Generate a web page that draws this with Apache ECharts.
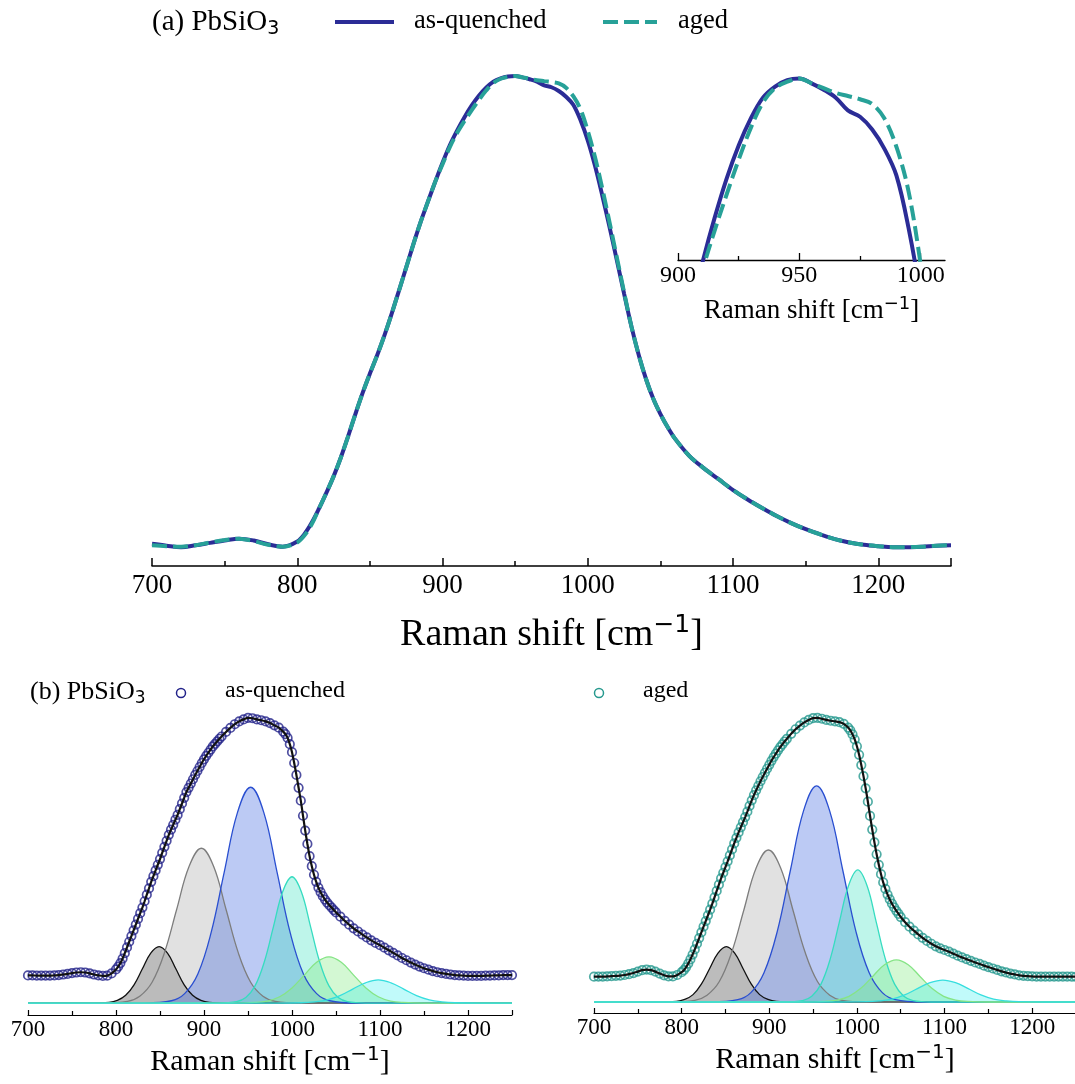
<!DOCTYPE html>
<html>
<head>
<meta charset="utf-8">
<script src="https://cdn.jsdelivr.net/npm/echarts@6/dist/echarts.min.js"></script>
<style>
  html, body { margin: 0; padding: 0; background: #ffffff; }
  #chart { width: 1075px; height: 1084px; }
</style>
</head>
<body>
<div id="chart"></div>
<script>
// ---------- (a) normalised Raman spectra ----------
const shiftA = [700,710,720,730,740,750,760,770,780,790,
  800,805,810,815,820,825,830,835,840,845,850,855,860,865,870,875,880,885,890,895,
  900,905,910,915,920,925,930,935,940,945,950,955,960,965,970,975,980,985,990,995,
  1000,1005,1010,1015,1020,1025,1030,1035,1040,1045,1050,1055,1060,
  1070,1080,1090,1100,1110,1120,1130,1140,1150,1160,1170,1180,1190,1200,1210,1220,1230,1240,1250];
const quenchedA = [0.007,0.003,0.000,0.004,0.009,0.014,0.018,0.014,0.006,0.001,
  0.012,0.028,0.052,0.082,0.115,0.150,0.190,0.235,0.282,0.327,0.368,0.407,0.449,0.495,0.544,0.593,0.643,0.690,0.733,0.775,
  0.815,0.852,0.883,0.911,0.936,0.957,0.974,0.987,0.994,0.998,0.999,0.996,0.992,0.987,0.979,0.975,0.967,0.955,0.938,0.905,
  0.862,0.808,0.745,0.678,0.608,0.537,0.468,0.408,0.357,0.315,0.282,0.254,0.230,
  0.193,0.167,0.144,0.121,0.101,0.083,0.066,0.051,0.038,0.027,0.017,0.010,0.005,0.002,0.000,0.000,0.001,0.003,0.004];
const agedA = [0.004,0.002,0.001,0.004,0.010,0.015,0.018,0.013,0.005,0.001,
  0.010,0.025,0.049,0.082,0.115,0.150,0.190,0.235,0.282,0.327,0.368,0.407,0.449,0.495,0.544,0.593,0.643,0.690,0.733,0.775,
  0.812,0.848,0.878,0.903,0.926,0.948,0.968,0.984,0.993,0.997,0.999,0.996,0.993,0.990,0.988,0.986,0.983,0.974,0.956,0.928,
  0.882,0.826,0.760,0.688,0.614,0.540,0.468,0.408,0.357,0.315,0.282,0.254,0.230,
  0.193,0.167,0.144,0.121,0.101,0.083,0.066,0.051,0.038,0.027,0.017,0.010,0.005,0.002,0.000,0.000,0.001,0.003,0.004];

// ---------- (b) measured spectra used for the band fits ----------
const shiftB = [700,705,710,715,720,725,730,735,740,745,750,755,760,765,770,775,780,785,790,795,800,
  802.5,805,807.5,810,812.5,815,817.5,820,822.5,825,827.5,830,832.5,835,837.5,840,842.5,845,847.5,850,
  852.5,855,857.5,860,862.5,865,867.5,870,872.5,875,877.5,880,882.5,885,887.5,890,892.5,895,897.5,900,
  902.5,905,907.5,910,912.5,915,917.5,
  920,925,930,935,940,945,950,955,960,965,970,975,980,985,990,
  992.5,995,997.5,1000,1002.5,1005,1007.5,1010,1012.5,1015,1017.5,1020,1022.5,1025,1027.5,1030,
  1032.5,1035,1037.5,1040,1042.5,1045,1047.5,1050,
  1055,1060,1065,1070,1075,1080,1085,1090,1095,1100,1105,1110,1115,1120,1125,1130,1135,1140,1145,1150,
  1155,1160,1165,1170,1175,1180,1185,1190,1195,1200,1205,1210,1215,1220,1225,1230,1235,1240,1245,1250];
const quenchedB = [0.097,0.097,0.096,0.096,0.096,0.096,0.097,0.098,0.100,0.102,0.105,0.107,0.108,0.107,0.104,0.100,0.097,0.095,0.096,0.104,0.118,
  0.128,0.140,0.156,0.175,0.195,0.215,0.235,0.255,0.275,0.295,0.315,0.335,0.357,0.380,0.402,0.425,0.445,0.465,0.485,0.505,
  0.527,0.548,0.569,0.590,0.608,0.625,0.643,0.660,0.680,0.700,0.720,0.740,0.755,0.770,0.785,0.800,0.814,0.828,0.842,0.855,
  0.867,0.878,0.889,0.900,0.909,0.918,0.927,
  0.935,0.951,0.965,0.978,0.988,0.995,1.000,0.999,0.995,0.992,0.988,0.982,0.974,0.966,0.952,
  0.943,0.930,0.908,0.880,0.842,0.800,0.755,0.710,0.657,0.605,0.558,0.515,0.480,0.450,0.425,0.405,
  0.389,0.375,0.363,0.352,0.343,0.335,0.326,0.318,
  0.303,0.288,0.275,0.262,0.251,0.240,0.230,0.220,0.211,0.203,0.194,0.185,0.176,0.167,0.158,0.150,0.142,0.135,0.128,0.122,
  0.117,0.112,0.108,0.105,0.102,0.100,0.098,0.097,0.096,0.095,0.095,0.095,0.095,0.096,0.096,0.097,0.097,0.098,0.098,0.098];
const agedB = [0.089,0.089,0.089,0.090,0.091,0.092,0.093,0.095,0.098,0.102,0.107,0.112,0.114,0.112,0.107,0.100,0.094,0.090,0.090,0.095,0.105,
  0.112,0.122,0.135,0.150,0.167,0.185,0.205,0.225,0.245,0.265,0.285,0.305,0.325,0.346,0.368,0.391,0.413,0.435,0.455,0.475,
  0.495,0.516,0.537,0.558,0.578,0.597,0.615,0.633,0.651,0.670,0.690,0.710,0.728,0.745,0.761,0.777,0.792,0.807,0.821,0.835,
  0.849,0.862,0.874,0.886,0.897,0.907,0.917,
  0.926,0.944,0.960,0.973,0.984,0.993,0.999,1.000,0.997,0.993,0.990,0.988,0.985,0.979,0.966,
  0.956,0.942,0.924,0.900,0.870,0.834,0.795,0.752,0.705,0.655,0.607,0.562,0.520,0.483,0.450,0.421,
  0.398,0.378,0.361,0.346,0.333,0.321,0.310,0.299,
  0.281,0.265,0.251,0.238,0.226,0.215,0.205,0.196,0.189,0.183,0.177,0.170,0.163,0.157,0.151,0.145,0.139,0.134,0.128,0.123,
  0.118,0.113,0.108,0.104,0.100,0.097,0.094,0.092,0.091,0.090,0.089,0.089,0.089,0.089,0.089,0.089,0.089,0.089,0.089,0.089];

// ---------- (b) fitted band components, as-quenched ----------
const bandQ850  = [[700,0],[773,0],[792,0.002],[801.5,0.009],[811,0.027],[820.5,0.064],[830,0.120],[839.5,0.175],[849,0.198],[858.5,0.175],[868,0.120],[877.5,0.064],[887,0.027],[896.5,0.009],[906,0.002],[925,0],[1250,0]];
const bandQ900  = [[700,0],[785,0],[813,0.006],[827,0.024],[841,0.073],[855,0.176],[869,0.329],[883,0.479],[897,0.543],[911,0.479],[925,0.329],[939,0.176],[953,0.073],[967,0.024],[981,0.006],[1009,0],[1250,0]];
const bandQ955  = [[700,0],[833,0],[863,0.008],[878,0.033],[893,0.102],[908,0.246],[923,0.459],[938,0.668],[953,0.757],[968,0.668],[983,0.459],[998,0.246],[1013,0.102],[1028,0.033],[1043,0.008],[1073,0],[1250,0]];
const bandQ1000 = [[700,0],[916,0],[937,0.005],[947.5,0.019],[958,0.060],[968.5,0.144],[979,0.269],[989.5,0.391],[1000,0.443],[1010.5,0.391],[1021,0.269],[1031.5,0.144],[1042,0.060],[1052.5,0.019],[1063,0.005],[1084,0],[1250,0]];
const bandQ1045 = [[700,0],[930,0],[958,0.002],[972,0.007],[986,0.022],[1000,0.053],[1014,0.098],[1028,0.143],[1042,0.162],[1056,0.143],[1070,0.098],[1084,0.053],[1098,0.022],[1112,0.007],[1126,0.002],[1154,0],[1250,0]];
const bandQ1100 = [[700,0],[982,0],[1011,0.001],[1025.5,0.004],[1040,0.011],[1054.5,0.026],[1069,0.049],[1083.5,0.071],[1098,0.081],[1112.5,0.071],[1127,0.049],[1141.5,0.026],[1156,0.011],[1170.5,0.004],[1185,0.001],[1214,0],[1250,0]];

// ---------- (b) fitted band components, aged ----------
const bandA850  = [[700,0],[775,0],[794,0.002],[803.5,0.009],[813,0.026],[822.5,0.063],[832,0.118],[841.5,0.172],[851,0.195],[860.5,0.172],[870,0.118],[879.5,0.063],[889,0.026],[898.5,0.009],[908,0.002],[927,0],[1250,0]];
const bandA900  = [[700,0],[787,0],[815,0.006],[829,0.024],[843,0.072],[857,0.174],[871,0.324],[885,0.472],[899,0.535],[913,0.472],[927,0.324],[941,0.174],[955,0.072],[969,0.024],[983,0.006],[1011,0],[1250,0]];
const bandA955  = [[700,0],[834,0],[864,0.008],[879,0.033],[894,0.103],[909,0.247],[924,0.462],[939,0.672],[954,0.761],[969,0.672],[984,0.462],[999,0.247],[1014,0.103],[1029,0.033],[1044,0.008],[1074,0],[1250,0]];
const bandA1000 = [[700,0],[917,0],[938,0.005],[948.5,0.020],[959,0.063],[969.5,0.151],[980,0.282],[990.5,0.410],[1001,0.465],[1011.5,0.410],[1022,0.282],[1032.5,0.151],[1043,0.063],[1053.5,0.020],[1064,0.005],[1085,0],[1250,0]];
const bandA1045 = [[700,0],[937,0],[964,0.002],[977.5,0.007],[991,0.020],[1004.5,0.048],[1018,0.090],[1031.5,0.131],[1045,0.148],[1058.5,0.131],[1072,0.090],[1085.5,0.048],[1099,0.020],[1112.5,0.007],[1126,0.002],[1153,0],[1250,0]];
const bandA1100 = [[700,0],[982,0],[1011,0.001],[1025.5,0.004],[1040,0.010],[1054.5,0.025],[1069,0.047],[1083.5,0.068],[1098,0.077],[1112.5,0.068],[1127,0.047],[1141.5,0.025],[1156,0.010],[1170.5,0.004],[1185,0.001],[1214,0],[1250,0]];

// ---------- tick positions ----------
const ticksWide = [700,800,900,1000,1100,1200,1250];
const labelsWide = [700,800,900,1000,1100,1200];
const minorWide = [750,850,950,1050,1150];
const ticksInset = [900,950,1000];
const minorInset = [925,975];

// ---------- styling ----------
const navy = '#2b2c96';
const teal = '#27a198';
const dotNavy = '#23238a';
const dotTeal = '#26998e';
const serif = '"Liberation Serif", "Times New Roman", serif';
const sans = '"DejaVu Sans", sans-serif';

const bandStyles = [
  { stroke: '#111111', fill: 'rgba(95,95,95,0.6)' },
  { stroke: '#7d7d7d', fill: 'rgba(185,185,185,0.62)' },
  { stroke: '#2a4fd0', fill: 'rgba(65,105,225,0.5)' },
  { stroke: '#36dcc0', fill: 'rgba(50,225,190,0.45)' },
  { stroke: '#86e486', fill: 'rgba(130,235,130,0.5)' },
  { stroke: '#36dede', fill: 'rgba(0,235,235,0.35)' }
];

function pairs(xs, ys) { return xs.map((x, i) => [x, ys[i]]); }

function axisTitle(size, supSize) {
  return {
    name: '{t|Raman shift [cm}{s|\u22121}{t|]}',
    nameLocation: 'middle',
    nameTextStyle: {
      rich: {
        t: { fontFamily: serif, fontSize: size, color: '#000', lineHeight: Math.round(size * 1.15) },
        s: { fontFamily: sans, fontSize: supSize, color: '#000', verticalAlign: 'top', lineHeight: supSize }
      }
    }
  };
}

function mainXAxis(gridIndex, min, max, ticks, labels, o) {
  return Object.assign({
    type: 'value', gridIndex, min, max, position: 'bottom',
    axisLine: { show: true, onZero: false, lineStyle: { color: '#000', width: o.lineWidth } },
    axisTick: { show: true, inside: true, length: o.tickLen, customValues: ticks, lineStyle: { color: '#000', width: o.lineWidth } },
    axisLabel: { show: true, customValues: labels, margin: o.margin, fontFamily: serif, fontSize: o.labelSize, color: '#000',
      formatter: (v) => String(Math.round(v)) },
    splitLine: { show: false },
    nameGap: o.nameGap
  }, axisTitle(o.nameSize, o.supSize));
}

function minorXAxis(gridIndex, min, max, ticks, o) {
  return {
    type: 'value', gridIndex, min, max, position: 'bottom',
    axisLine: { show: false, onZero: false },
    axisTick: { show: true, inside: true, length: o.minorLen, customValues: ticks, lineStyle: { color: '#000', width: o.lineWidth } },
    axisLabel: { show: false },
    splitLine: { show: false }
  };
}

function hiddenY(gridIndex, min, max) {
  return { type: 'value', gridIndex, min, max, show: false, splitLine: { show: false } };
}

const optA = { lineWidth: 1.5, tickLen: 8, minorLen: 5, margin: 6, labelSize: 27, nameSize: 38, supSize: 25, nameGap: 47 };
const optI = { lineWidth: 1.3, tickLen: 7, minorLen: 4, margin: 4, labelSize: 24, nameSize: 27, supSize: 18, nameGap: 35 };
const optB = { lineWidth: 1.2, tickLen: 5, minorLen: 4, margin: 3, labelSize: 23, nameSize: 30, supSize: 20, nameGap: 30 };

const xAxes = [
  mainXAxis(0, 700, 1250, ticksWide, labelsWide, optA),
  mainXAxis(1, 900, 1010, ticksInset, ticksInset, optI),
  mainXAxis(2, 700, 1250, ticksWide, labelsWide, optB),
  mainXAxis(3, 700, 1250, ticksWide, labelsWide, optB),
  minorXAxis(0, 700, 1250, minorWide, optA),
  minorXAxis(1, 900, 1010, minorInset, optI),
  minorXAxis(2, 700, 1250, minorWide, optB),
  minorXAxis(3, 700, 1250, minorWide, optB)
];

const yAxes = [
  hiddenY(0, -0.04, 1.054),
  hiddenY(1, 0.885, 1.005),
  hiddenY(2, -0.042, 1.063),
  hiddenY(3, -0.0387, 1.063)
];

function spectrumLine(name, xi, data, color, dashed) {
  return {
    name, type: 'line', xAxisIndex: xi, yAxisIndex: xi, data,
    smooth: 0.35, showSymbol: false, clip: true, z: dashed ? 3 : 2,
    lineStyle: { color, width: 4, type: dashed ? [15, 6] : 'solid', cap: 'butt' }
  };
}

function bandSeries(xi, data, st) {
  return {
    type: 'line', xAxisIndex: xi, yAxisIndex: xi, data,
    smooth: 0.4, showSymbol: false, z: 2,
    lineStyle: { color: st.stroke, width: 1.3 },
    areaStyle: { color: st.fill }
  };
}

function dataDots(name, xi, data, color) {
  return {
    name, type: 'scatter', xAxisIndex: xi, yAxisIndex: xi, data,
    symbol: 'circle', symbolSize: 8.5, z: 4,
    itemStyle: { color: 'rgba(255,255,255,0)', borderColor: color, borderWidth: 1.7 }
  };
}

function traceLine(xi, data) {
  return {
    type: 'line', xAxisIndex: xi, yAxisIndex: xi, data,
    smooth: 0.3, showSymbol: false, z: 5,
    lineStyle: { color: '#111', width: 2.2 }
  };
}

const bandsQ = [bandQ850, bandQ900, bandQ955, bandQ1000, bandQ1045, bandQ1100];
const bandsA = [bandA850, bandA900, bandA955, bandA1000, bandA1045, bandA1100];

const series = [
  spectrumLine('as-quenched', 0, pairs(shiftA, quenchedA), navy, false),
  spectrumLine('aged', 0, pairs(shiftA, agedA), teal, true),
  spectrumLine('as-quenched', 1, pairs(shiftA, quenchedA), navy, false),
  spectrumLine('aged', 1, pairs(shiftA, agedA), teal, true)
];
bandsQ.forEach((b, i) => series.push(bandSeries(2, b, bandStyles[i])));
series.push(dataDots('as-quenched', 2, pairs(shiftB, quenchedB), dotNavy));
series.push(traceLine(2, pairs(shiftB, quenchedB)));
bandsA.forEach((b, i) => series.push(bandSeries(3, b, bandStyles[i])));
series.push(dataDots('aged', 3, pairs(shiftB, agedB), dotTeal));
series.push(traceLine(3, pairs(shiftB, agedB)));

function label(x, y, text, size) {
  return { type: 'text', x, y, z: 10,
    style: { text, fill: '#000', fontFamily: serif, fontSize: size, align: 'left', verticalAlign: 'middle' } };
}
function formulaLabel(x, y, text, size, subSize) {
  return { type: 'text', x, y, z: 10,
    style: {
      text: '{m|' + text + '}{s|3}', align: 'left', verticalAlign: 'middle',
      rich: {
        m: { fontFamily: serif, fontSize: size, fill: '#000', color: '#000', lineHeight: Math.round(size * 1.15) },
        s: { fontFamily: sans, fontSize: subSize, fill: '#000', color: '#000', verticalAlign: 'bottom', lineHeight: subSize }
      }
    } };
}

const graphic = [
  formulaLabel(152, 22, '(a) PbSiO', 29, 19),
  { type: 'line', z: 10, shape: { x1: 335, y1: 22, x2: 394, y2: 22 }, style: { stroke: navy, lineWidth: 4 } },
  label(414, 21, 'as-quenched', 26.5),
  { type: 'line', z: 10, shape: { x1: 603, y1: 22, x2: 657, y2: 22 }, style: { stroke: teal, lineWidth: 4, lineDash: [15, 6] } },
  label(678, 21, 'aged', 26.5),
  formulaLabel(30, 692, '(b) PbSiO', 26, 17),
  { type: 'circle', z: 10, shape: { cx: 181, cy: 693, r: 4.5 }, style: { fill: 'none', stroke: dotNavy, lineWidth: 1.5 } },
  label(225, 691, 'as-quenched', 24),
  { type: 'circle', z: 10, shape: { cx: 599, cy: 693, r: 4.5 }, style: { fill: 'none', stroke: dotTeal, lineWidth: 1.5 } },
  label(643, 691, 'aged', 24)
];

const chart = echarts.init(document.getElementById('chart'), null, { renderer: 'canvas' });
chart.setOption({
  backgroundColor: '#ffffff',
  animation: false,
  grid: [
    { left: 152, top: 50, width: 799, height: 516, outerBoundsMode: 'none', containLabel: false },
    { left: 678, top: 69, width: 267, height: 191, outerBoundsMode: 'none', containLabel: false },
    { left: 28, top: 700, width: 484, height: 315, outerBoundsMode: 'none', containLabel: false },
    { left: 594, top: 700, width: 482, height: 313, outerBoundsMode: 'none', containLabel: false }
  ],
  xAxis: xAxes,
  yAxis: yAxes,
  series,
  graphic
});
</script>
</body>
</html>
